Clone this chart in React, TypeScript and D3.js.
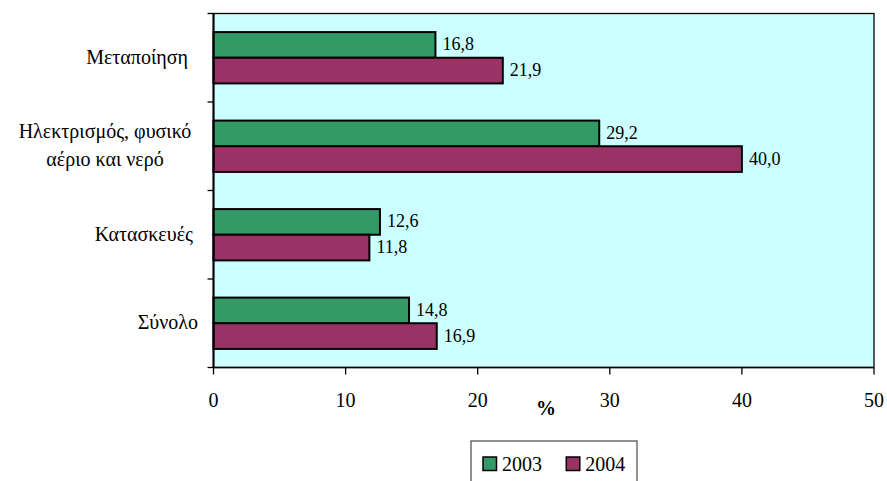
import React from "react";
import * as d3 from "d3";

const categories = ["Μεταποίηση  ", "Ηλεκτρισμός, φυσικό|αέριο και νερό", "Κατασκευές ", "Σύνολο"];
const seriesNames = ["2003", "2004"];
const values2003 = [16.8, 29.2, 12.6, 14.8];
const values2004 = [21.9, 40.0, 11.8, 16.9];
const xTicks = [0, 10, 20, 30, 40, 50];
const colors = ["#339966", "#993366"];

const W = 887, H = 481;
const left = 213.5, right = 874, top = 13.5, bottom = 367.5;
const font = '"Liberation Serif"';

const fmt = (v: number) => v.toFixed(1).replace(".", ",");

export default function App() {
  const x = d3.scaleLinear().domain([0, 50]).range([left, right]);
  const y = d3.scaleBand<string>().domain(categories).range([top, bottom]).padding(0);
  const bw = y.bandwidth();
  const inner = d3.scaleBand<string>().domain(seriesNames).range([bw * 0.21, bw * 0.79]).padding(0);
  const series = [values2003, values2004];
  const boundaries = [...categories.map((c) => y(c) as number), bottom];
  const ts = (size: number, extra: React.CSSProperties = {}): React.CSSProperties => ({ fontFamily: font, fontSize: size + "px", ...extra });

  return (
    <svg width={W} height={H} style={{ position: "absolute", left: 0, top: 0 }}>
      <rect x={0} y={0} width={W} height={H} fill="#fff" />
      <rect x={left} y={top} width={right - left} height={bottom - top} fill="#CCFFFF" stroke="#000" strokeWidth={1.3} />
      {boundaries.map((b, i) => (
        <line key={"yt" + i} x1={left - 6} x2={left} y1={b} y2={b} stroke="#000" strokeWidth={1.3} />
      ))}
      {xTicks.map((t) => (
        <g key={"xt" + t}>
          <line x1={x(t)} x2={x(t)} y1={bottom} y2={bottom + 7} stroke="#000" strokeWidth={1.3} />
          <text x={x(t)} y={407} textAnchor="middle" style={ts(20)} fill="#000">{t}</text>
        </g>
      ))}
      {categories.map((c, ci) =>
        series.map((vals, si) => {
          const by = (y(c) as number) + (inner(seriesNames[si]) as number);
          const bh = inner.bandwidth();
          return (
            <g key={c + si}>
              <rect x={x(0)} y={by} width={x(vals[ci]) - x(0)} height={bh} fill={colors[si]} stroke="#000" strokeWidth={2} />
              <text x={x(vals[ci]) + 7} y={by + bh / 2 + 5.5} style={ts(18)} fill="#000">{fmt(vals[ci])}</text>
            </g>
          );
        })
      )}
      <line x1={left} x2={left} y1={top} y2={bottom} stroke="#000" strokeWidth={2} />
      <line x1={left} x2={right} y1={bottom} y2={bottom} stroke="#000" strokeWidth={1.5} />
      {categories.map((c) => {
        const lines = c.split("|");
        const cy = (y(c) as number) + bw / 2;
        const lh = 28;
        if (lines.length === 1) {
          return (
            <text key={"l" + c} x={198} y={cy + 6} textAnchor="end" fill="#000" style={ts(20, { whiteSpace: "pre" })}>{c}</text>
          );
        }
        return (
          <text key={"l" + c} x={105} textAnchor="middle" fill="#000" style={ts(20)}>
            {lines.map((ln, i) => (
              <tspan key={i} x={105} y={cy + 6 + (i - (lines.length - 1) / 2) * lh}>{ln}</tspan>
            ))}
          </text>
        );
      })}
      <text x={546} y={415} textAnchor="middle" fontWeight="bold" fill="#000" style={ts(20)}>%</text>
      <rect x={471} y={441} width={166} height={60} fill="#fff" stroke="#222" strokeWidth={1} />
      {seriesNames.map((s, i) => (
        <g key={"lg" + s} transform={`translate(${483 + i * 83.3},0)`}>
          <rect x={0} y={457} width={13.5} height={13.5} fill={colors[i]} stroke="#000" strokeWidth={1.5} />
          <text x={19} y={471} fill="#000" style={ts(20)}>{s}</text>
        </g>
      ))}
    </svg>
  );
}
